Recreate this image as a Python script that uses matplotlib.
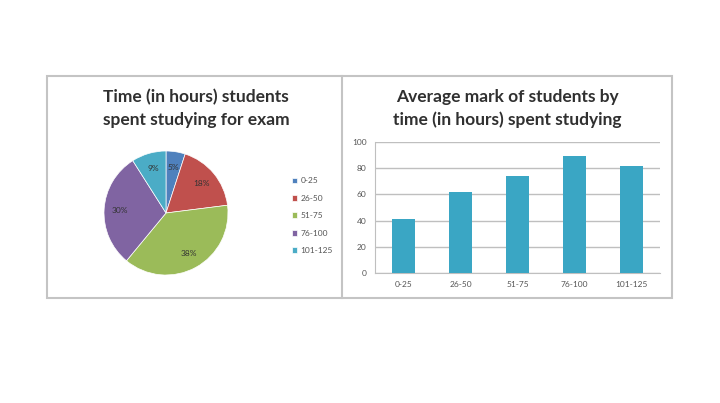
import matplotlib
matplotlib.use("Agg")
import matplotlib.pyplot as plt
from matplotlib.patches import Rectangle
from matplotlib.lines import Line2D

# data
groups = ["0-25", "26-50", "51-75", "76-100", "101-125"]
time_share = [5, 18, 38, 30, 9]
avg_mark = [41, 62, 74, 89, 82]
y_ticks = [0, 20, 40, 60, 80, 100]

pie_colors = ["#4F81BD", "#C0504D", "#9BBB59", "#8064A2", "#4BACC6"]
bar_color = "#3AA6C4"

plt.rcParams['font.family'] = ['Lato', 'DejaVu Sans']

W, H = 720, 403
fig = plt.figure(figsize=(W / 100, H / 100), dpi=100)
fig.patch.set_facecolor("white")


def fx(px):
    return px / W


def fy(py):
    return 1 - py / H


# outer frame and divider
fig.patches.append(Rectangle((fx(47), fy(298)), fx(672) - fx(47), fy(76) - fy(298),
                             transform=fig.transFigure, fill=False,
                             edgecolor="#C4C4C4", linewidth=1.5))
fig.lines.append(Line2D([fx(342), fx(342)], [fy(76), fy(298)],
                        transform=fig.transFigure, color="#C4C4C4", linewidth=1.5))

# pie
ax1 = fig.add_axes([fx(104), fy(275), fx(124), 124 / H])
wedges, texts, autotexts = ax1.pie(time_share, colors=pie_colors, startangle=90,
                                   counterclock=False, autopct="%d%%", pctdistance=0.75,
                                   wedgeprops=dict(edgecolor="white", linewidth=0.5),
                                   textprops=dict(fontsize=6, color="#333333"))
ax1.set_xlim(-1, 1)
ax1.set_ylim(-1, 1)
ax1.set_aspect("equal")

fig.text(fx(196), fy(97), "Time (in hours) students", ha="center", va="center",
         fontsize=12.5, fontweight="bold", color="#303030")
fig.text(fx(196), fy(120), "spent studying for exam", ha="center", va="center",
         fontsize=12.5, fontweight="bold", color="#303030")

fig.legend(wedges, groups, loc="upper left", bbox_to_anchor=(fx(284), fy(170)),
           frameon=False, fontsize=6, labelspacing=1.25, handlelength=0.7,
           handleheight=0.7, handletextpad=0.4, labelcolor="#555555")

# bars
ax2 = fig.add_axes([fx(375), fy(273), fx(660) - fx(375), (273 - 142) / H])
ax2.bar(groups, avg_mark, width=0.39, color=bar_color, zorder=3)
ax2.set_xlim(-0.5, 4.5)
ax2.set_ylim(0, 100)
ax2.set_yticks(y_ticks)
ax2.grid(axis="y", color="#BFBFBF", linewidth=1, zorder=0)
for s in ["top", "right"]:
    ax2.spines[s].set_visible(False)
ax2.spines["left"].set_color("#BFBFBF")
ax2.spines["bottom"].set_color("#BFBFBF")
ax2.tick_params(labelsize=6, colors="#555555", length=0, pad=6)

fig.text(fx(507), fy(97), "Average mark of students by", ha="center", va="center",
         fontsize=12.5, fontweight="bold", color="#303030")
fig.text(fx(507), fy(120), "time (in hours) spent studying", ha="center", va="center",
         fontsize=12.5, fontweight="bold", color="#303030")

fig.savefig("out.png", dpi=100)
